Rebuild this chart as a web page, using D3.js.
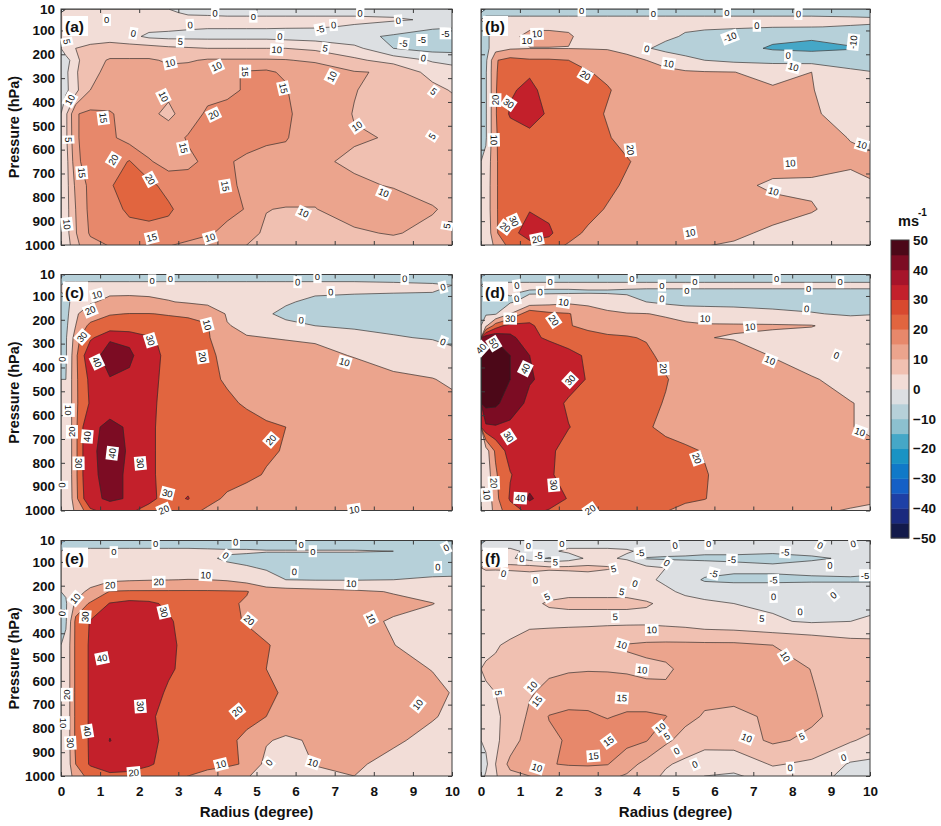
<!DOCTYPE html>
<html><head><meta charset="utf-8">
<script src="https://cdn.jsdelivr.net/npm/d3@7"></script>
<style>
body{margin:0;background:#fff;}
svg{display:block;font-family:"Liberation Sans",Arial,sans-serif;}
</style></head><body>
<svg id="chart" width="941" height="826"></svg>
<script>
// ---------- grid coordinates ----------
const radiusGrid = [0, 0.25, 0.5, 1, 1.5, 2, 2.5, 3, 3.5, 4, 4.5, 5, 5.5, 6, 7, 8, 9, 10];
const pressureGrid = [10, 40, 70, 100, 150, 200, 250, 300, 400, 500, 600, 700, 800, 900, 1000];
const pressureTicks = [10, 100, 200, 300, 400, 500, 600, 700, 800, 900, 1000];
const radiusTicks = [0, 1, 2, 3, 4, 5, 6, 7, 8, 9, 10];
const colorbarTicks = [50, 40, 30, 20, 10, 0, -10, -20, -30, -40, -50];

// ---------- wind fields, rows = pressure levels, columns = radii ----------
const panelA = [
[1,1,1,1,1,1,1,-1,-1,-1,-1,-1,-1,-1,-1,-1,-1,-1],
[2,2,2,2,2,2,2,2,1.5,1,1,1,1,1,1,0.5,-0.5,-1],
[2,2,2,2,2,2,2,1,0.5,0.5,0.5,0.5,0.5,0.5,-0.5,-2,-4,-5],
[3,3,3,3,1.5,-1,-1.5,-1.5,-1.5,-1.5,-1.5,-1.5,-2,-2.5,-4,-5.5,-7,-7],
[3,5,6,7,7,7,6,5.5,5,5,5,5,5,4,1.5,-5,-7,-7],
[-2,3,8,10.5,10.5,10.5,9.5,9.5,10.5,10.5,10.5,10.5,10.3,9.5,6,3,-0.5,-2],
[-1,4,9,11,12,12,11,12,13,14,15.5,16,14,12,10.3,9.5,3,1],
[-1,3,10,11.5,12,12,11,12,13,14,15.5,16,15.5,11,10.2,8,6,3.5],
[4,14.5,16,15.5,13,11,9,12,16,16.5,17,17,16,13,9.8,9.5,7.5,5.5],
[4,14,17,16,13,12,12.5,15.5,17,17,17,16,15.5,12,10.3,9.8,7,5.2],
[3,13,17,17.5,20.3,15.5,13,14,16,15.5,14,13,12.5,10.5,9.5,8.5,6.5,4],
[3,11,16,19.5,22.5,21.5,18,17,16.5,16,14,12.5,12,11,10.5,9.8,8.5,6],
[3,10,16,18,21,22,21,17,16.5,16,14.8,10.1,9.8,9.9,11.5,11.5,10.3,8],
[3,9.5,15.5,17,18,18,17.5,16.5,15.5,14,11,9.5,9,8.5,9.5,10.3,9,5],
[2,7,12,13.5,14,14,13,12,11,10.2,9,8.5,8,8,8,7,6,5]
];
const panelB = [
[-3,-3,-3,-3,-3,-3,-3,-3,-3,-3,-3,-3,-3,-3,-3,-3,-3,-3],
[3,3,3,3,3,3,3,3,3,3,3,3,3,3,3,3,2,1],
[-1,5,7,8,8,8,6,5,5,4,3,2,1.5,1,0.5,0.2,-0.5,-1],
[-2,4,8,12,12,11,7,6,5,4,2,-1,-2,-3,-8,-9,-8,-4],
[-3,6,9,9.8,9.8,9.8,9.6,9.5,8,1,-3,-5,-6,-7,-11,-12,-10.5,-6],
[-2,19,23,21,21,20,17,14,12,10,7,3,0,-2,-3,-4,-5,-5],
[-1,19,25,28,24,22,20.5,18,16,14,12,11,10.5,10.1,8,10,2,-1],
[-1,19,29,32,27,24,22,20.5,18,16,14,13,12,11,10.5,10.3,6,3],
[-1,19,31,33,29,25,22,19.5,18,16,15,14,14,13,12,10.5,8.5,7],
[-1,19,25,28,26,24,22,20.5,18,16,15,14,14,13.5,13,12,9.8,8],
[2,19,24,27,26,25,23,22,20.5,18,16,15,14,13,12.5,12,11,10.2],
[3,19,24,27,26,25,23,21.5,19,17,15,14,13,11.5,9,9,8,10.3],
[3,19,24,29.5,27,24,22,19.5,18,16,15,14,13.5,13,12,10.5,7,7],
[2,18,27,34,32,22,19,17,15.5,14.5,13.5,12.5,12,11,9,7,6,6],
[2,10,18,21,19,17,15,13,11.5,10.5,9.5,9,8.5,8,7,6,6,6]
];
const panelC = [
[-3,-3,-3,-3,-3,-3,-3,-3,-3,-3,-3,-3,-3,-3,-3,-3,-3,-3],
[3,3,3,3,3,3,3,3,3,3,3,3,3,3,3,2,1,-1],
[1,3,6,8,8,7.5,7,6,5,4,3,2,2,1,1,0.5,0,-1],
[-2,3,9,12,12.5,12,10.5,9,7,5,4,3,1,-1,-3,-4,-4,-4],
[-3,8,15,19.5,20.2,20.2,19.5,19,18,9,6,1,-2,-4,-6,-7,-7,-6],
[-2,10,22,24,24,23.5,23,22,20.5,10.5,8,5,2,0,-2,-3,-3,-3],
[-1,14,28,38,36,31,28,25,21,13,10.5,10,9.5,9,5,1,-1,-2],
[-1,17,36,44,42,33,28,26,21.5,18,15,13,12,11,9.8,8,5,0.3],
[0,17,32,39.5,38,33,27,25,22,19,16,14.5,13.5,13,12,11,10.3,7],
[0,17,31,36,34,32,27,25,23,21.5,19,16,15,14,13,12,11,10.2],
[0,17,38,42,39,31,28,26,25,24,23,21.5,20,17,14,13,12,11.5],
[0,17,38,44,39,31,28,26,25,24,23,21,19.5,17,14,13,12,12],
[0,17,38,43,38.5,31,28,26,24,22.5,21.5,19.5,17,15,13,12.5,12,12],
[0,16,37,42,39,32,27,30.5,22,19,17,15.5,14.5,14,13,12.5,12,11.5],
[0,10,20,25,25,23,20,18,16,14,13,12,11.5,11,10.3,9.9,9.5,9]
];
const panelD = [
[-3,-3,-3,-3,-3,-3,-3,-3,-3,-3,-3,-3,-3,-3,-3,-3,-3,-3],
[2,2,2,2,2,2,2,2,2,2,2,2,2,2,2,2,2,2],
[-2,-1,1,-1,-1.5,-1.5,-1,-1,-1.5,-2,-2,-2,-2,-2,-2,-2,-2,-2],
[-4,-3,-1,3,6,8,7,5,3,0,-2,-3,-3,-3,-3,-3,-3,-3],
[-1,-1,10,27,22,20.5,16,12,10.5,10.2,9,6,5,4,2,0.5,-1,0],
[8,25,33,31,27,20.5,18,16,14,13,12.5,12,11,11,11,10.5,5,4],
[46,48,43,33,28,25,23,21.5,21,19,14,12,10.5,9.5,8,6,4,3],
[53,55,50,40,35,32,29,26,24,21.5,18,15,13,12,9.8,7,5,3],
[55,56,50,41,37,33,29.5,27,25,23,20.5,17,15,14,12,10.5,8,6],
[53,52,47,37,33,29,27,25.5,24,22,19.5,17,15.5,14.5,13,12,10.2,8],
[38,39,37,35,33,30.2,28,26,23.5,21,18,16,15,14,13,12,10.2,8],
[5,22,33,36,31,28,26.5,25.5,25,24,23,21.5,19.5,17,14,12.5,11,10.3],
[3,18,29.5,35,31,27,25,24,23.5,23,22,21.5,20.5,18,15,13,12,11],
[3,15,31,41.5,34,29.5,26,25,24,23,22.5,21,20.2,18,15,13,11,10.2],
[3,12,22,26,25,23,21,19,18.5,18.5,18,16,14.5,12,10.2,9,8.5,8]
];
const panelE = [
[-3,-3,-3,-3,-3,-3,-3,-3,-3,-3,-3,-3,-3,-3,-3,-3,-3,-3],
[2,2,2,2,2,2,2,2,1.5,1,1,0.5,0.5,0.5,0.5,0,-0.5,-1],
[2,3,3,3,3,3,3,2.5,1,-1,-2,-3,-3,-3,-3,-3,-3,-3],
[2,3,4,5,5.5,5.5,5,4,3,1,0.5,-0.5,-2,-3,-3,-3,-3,-3],
[1,4,6,8,9,9.5,9.8,10.2,10.1,9,6,2,0,-0.5,-0.5,0,1,1.5],
[1,5,12,20.5,21,21,21,21,21,20.8,20.5,15,14,13,11.5,9.5,7,5],
[-1,12,21,30.5,33,32,28,25,23,21.5,19,17,16,15,13,12,10.2,6],
[-1,22,30.5,35,35,34,31,27,24,21.5,19.5,17,15,14,11.5,9.5,8,6],
[2,22,31,35,35,34,31.5,28,26,24,22.5,20.5,18,16,13,10.1,8,6],
[2,22,31,36,35,34,31,28,26,24,22,20,18,16.5,14,12,9.8,6],
[2,22,31,36,35,33,29,27,25.5,24,23,21.5,19,17,15,13,11.5,8],
[2,22,31,37,35,31,28,26.5,25,24,22.5,20,18,16,14,12.5,10.5,7],
[2,22,31,40.3,35,32,28,26,24,22,18,11,8,11,13,11,8,6],
[2,20,31,35,34,31,27,25,23,21.5,19,7,3,10.5,11,8,6,5],
[2,12,18,21,21,20.5,18,15,10.5,8,5,3,-1,4,9,7,5,4]
];
const panelF = [
[-1.5,-1.5,-1.5,-1.5,-1.5,-1.5,-1.5,-1.5,-1.5,-1.5,-1.5,-1.5,-1.5,-1.5,-1.5,-1.5,-1.5,-1.5],
[1,1,1,-1,-1,1,1,1,0.5,-1,-2,-3,-4,-4,-4,-3,-1,-3],
[2,2,1,-3,-5.5,-3,1,1,-1,-5.5,-6,-6,-6,-6,-7,-6,-4,-6],
[6,6,6.5,7,6,6,6,5.5,4,1,0,-2,-3,-4,-4,-3,-2,-4],
[1,0.5,0,1,1,2,3,2,1,1,-1,-3,-5.5,-6,-6,-6,-6,-6],
[1,1,2,3,3.5,4,4,4,4,3,1,-1,-2,-2,-2,-1,-1,-1],
[2,2,3,4,5.5,6,6,6,6,5.5,4,2,1,0,-1,-1,-1,-0.5],
[4,4,3.5,4,4,4,4,4,4,4,3.5,3,2,1.5,0.5,-0.5,0,0.5],
[4,4.5,5.5,7,7.5,8,8.5,9.5,10.3,10.8,11,11,11,11,10,9,7,6.5],
[5.5,6,7,8,9,9.5,9.6,9.5,9.2,9.3,9.6,10.6,12,12.5,12,9.9,8,7.5],
[4.5,5,6.5,9.5,11.5,12.5,13.5,13.5,13,11,10.5,11,11.5,12,12,10.3,8,7],
[2,4,6,11,15.2,16,15.5,14.8,15.5,16,15.2,11.5,9.5,8.5,11,10.8,8,6.5],
[1,3,8,12,14,15.5,16.5,17,16.5,15.3,11,8,7,7.5,10.8,9,5.5,2],
[-1,5,11,12,14.8,15.3,15.5,15.2,12,8.5,5.5,4,2,1.5,5.5,4,-0.5,-1],
[2,4,7,8,9,9.5,9,8,7,5.5,3,0.5,-2,-2.5,-0.5,0.5,-1.5,-1.5]
];

// ---------- contour labels: [radius, pressure, text] ----------
const labelsA = [[1.17,56,"0"],[1.85,112,"0"],[3.3,77,"0"],[3.94,28,"0"],[4.92,42,"0"],[7.65,28,"0"],[6.97,77,"0"],[8.63,59,"0"],[6.63,95,"-5"],[5.6,126,"0"],[8.76,154,"-5"],[9.23,140,"-5"],[9.83,112,"-5"],[9.27,216,"0"],[3.05,147,"5"],[6.76,175,"5"],[5.52,181,"10"],[0.15,147,"5"],[2.79,237,"10"],[3.98,251,"10"],[4.71,272,"15"],[2.62,377,"10"],[6.93,293,"10"],[5.69,342,"15"],[9.53,356,"5"],[0.23,391,"10"],[1.08,467,"15"],[3.9,453,"20"],[7.57,502,"10"],[0.19,558,"5"],[9.49,544,"5"],[3.13,593,"15"],[1.34,642,"20"],[2.28,725,"20"],[0.53,697,"15"],[4.2,753,"15"],[8.25,781,"10"],[6.2,865,"10"],[0.15,913,"10"],[2.32,969,"15"],[3.81,969,"10"],[9.87,920,"5"]];
const labelsB = [[2.59,17,"0"],[4.43,31,"0"],[6.32,24,"0"],[8.16,31,"0"],[7.09,80,"0"],[1.44,114,"10"],[1.18,142,"10"],[6.4,128,"-10"],[9.57,149,"-10"],[4.26,177,"0"],[7.9,205,"0"],[4.82,239,"10"],[8.03,253,"10"],[2.68,288,"20"],[0.37,392,"20"],[0.71,406,"30"],[0.33,559,"10"],[3.84,601,"20"],[9.79,580,"10"],[7.95,657,"10"],[7.52,775,"10"],[0.62,925,"20"],[0.85,900,"30"],[1.44,976,"20"],[5.38,949,"10"]];
const labelsC = [[2.33,35,"0"],[2.8,28,"0"],[6.05,42,"0"],[6.56,21,"0"],[8.79,28,"0"],[9.77,63,"0"],[6.9,84,"0"],[0.92,95,"10"],[0.75,161,"20"],[6.14,202,"0"],[3.74,221,"10"],[0.54,272,"30"],[2.29,286,"30"],[9.77,293,"0"],[0.03,366,"0"],[0.92,377,"40"],[3.62,356,"20"],[7.25,377,"10"],[0.2,579,"10"],[0.28,670,"20"],[0.67,690,"40"],[1.31,760,"40"],[0.45,802,"30"],[2.03,802,"30"],[5.37,704,"20"],[0.03,893,"0"],[2.72,928,"30"],[2.63,997,"20"],[7.5,997,"10"]];
const labelsD = [[1.78,42,"0"],[0.92,56,"0"],[1.52,84,"0"],[0.92,112,"0"],[3.88,28,"0"],[4.65,56,"0"],[5.5,42,"0"],[4.65,112,"0"],[5.29,77,"0"],[7.6,28,"0"],[8.42,70,"0"],[9.23,42,"0"],[8.37,154,"0"],[2.12,126,"10"],[0.75,195,"30"],[1.87,202,"20"],[5.76,195,"10"],[6.92,230,"10"],[0.33,300,"50"],[0,321,"40"],[9.14,349,"0"],[7.43,370,"10"],[1.14,405,"40"],[2.29,453,"30"],[4.69,405,"20"],[0.71,690,"30"],[9.74,670,"10"],[5.55,781,"20"],[0.33,885,"20"],[0.15,934,"10"],[1.87,893,"30"],[1.01,948,"40"],[2.81,997,"20"]];
const labelsE = [[2.42,24,"0"],[4.47,17,"0"],[6.14,27,"0"],[6.44,55,"0"],[9.85,41,"0"],[1.35,59,"0"],[4.21,73,"0"],[5.97,142,"0"],[9.64,122,"0"],[3.7,156,"10"],[7.42,191,"10"],[1.26,198,"20"],[2.5,184,"20"],[0.37,254,"10"],[2.63,310,"30"],[0.62,331,"30"],[0.03,317,"0"],[4.81,345,"20"],[7.93,338,"10"],[1.05,505,"40"],[0.15,658,"20"],[2.03,707,"30"],[4.51,728,"20"],[9.13,700,"10"],[0.07,777,"10"],[0.67,812,"40"],[0.24,861,"30"],[5.32,944,"0"],[6.44,944,"10"],[4.09,951,"10"],[1.86,986,"20"]];
const labelsF = [[1.22,31,"0"],[2.08,24,"0"],[4.99,31,"0"],[5.85,24,"0"],[8.72,31,"0"],[9.57,24,"0"],[1.48,73,"-5"],[1.05,87,"0"],[1.91,101,"5"],[0.58,149,"0"],[4.09,63,"-5"],[7.82,59,"-5"],[6.45,91,"-5"],[4.78,105,"0"],[3.41,129,"5"],[8.97,115,"0"],[9.87,156,"-5"],[5.98,149,"-5"],[7.52,177,"-5"],[1.4,177,"0"],[3.96,191,"0"],[3.62,226,"5"],[1.7,247,"5"],[7.52,247,"0"],[9.06,240,"0"],[8.2,310,"0"],[3.45,331,"5"],[7.22,338,"5"],[4.39,386,"10"],[3.62,449,"10"],[7.82,498,"10"],[4.14,554,"10"],[0.45,651,"5"],[1.31,624,"10"],[1.44,686,"15"],[3.62,672,"15"],[4.61,798,"10"],[4.78,833,"5"],[3.28,854,"15"],[6.83,840,"10"],[8.25,833,"5"],[5.03,895,"0"],[2.89,916,"15"],[5.5,951,"0"],[1.44,965,"10"],[7.95,965,"0"],[9.32,923,"0"]];

// ---------- colour map: band lower bounds -50..45 step 5 ----------
const bandLevels = [-50,-45,-40,-35,-30,-25,-20,-15,-10,-5,0,5,10,15,20,25,30,35,40,45];
const bandColors = ["#131a4b","#1b2a7e","#1e40a6","#1560c6","#1079c8","#1a93c4","#45a7c7","#8cc0cf","#b6d0d9","#dcdfe2",
                    "#f2ddd7","#f0c0b1","#eba48d","#e7886b","#e1653f","#d8492f","#c3202b","#a6142a","#7c0c23","#4c0818"];
function colorFor(t){ let i = Math.round((t + 50) / 5); i = Math.max(0, Math.min(19, i)); return bandColors[i]; }

const panels = [
  {key:"a", tag:"(a)", data:panelA, labels:labelsA, step:5,  col:0, row:0},
  {key:"b", tag:"(b)", data:panelB, labels:labelsB, step:10, col:1, row:0},
  {key:"c", tag:"(c)", data:panelC, labels:labelsC, step:10, col:0, row:1},
  {key:"d", tag:"(d)", data:panelD, labels:labelsD, step:10, col:1, row:1},
  {key:"e", tag:"(e)", data:panelE, labels:labelsE, step:10, col:0, row:2},
  {key:"f", tag:"(f)", data:panelF, labels:labelsF, step:5,  col:1, row:2}
];
const colX = [[61, 452], [481, 870]];
const rowY = [[9, 245], [274.5, 510.5], [540.5, 776]];

const svg = d3.select("#chart");
const defs = svg.append("defs");
const nc = radiusGrid.length, nr = pressureGrid.length;

function fieldAt(data, r, p){
  const i = Math.max(0, Math.min(nc - 2, d3.bisectRight(radiusGrid, r) - 1));
  const j = Math.max(0, Math.min(nr - 2, d3.bisectRight(pressureGrid, p) - 1));
  const tx = (r - radiusGrid[i]) / (radiusGrid[i+1] - radiusGrid[i]);
  const ty = (p - pressureGrid[j]) / (pressureGrid[j+1] - pressureGrid[j]);
  return data[j][i]*(1-tx)*(1-ty) + data[j][i+1]*tx*(1-ty) + data[j+1][i]*(1-tx)*ty + data[j+1][i+1]*tx*ty;
}

function drawPanel(P){
  const [x0, x1] = colX[P.col], [y0, y1] = rowY[P.row];
  const xs = d3.scaleLinear().domain([0, 10]).range([x0, x1]);
  const ys = d3.scaleLinear().domain([10, 1000]).range([y0, y1]);
  const clipId = "clip-" + P.key;
  defs.append("clipPath").attr("id", clipId).append("rect")
    .attr("x", x0).attr("y", y0).attr("width", x1 - x0).attr("height", y1 - y0);

  const values = [];
  for (let j = 0; j <= nr; j++){
    const row = P.data[Math.min(j, nr - 1)];
    for (let i = 0; i <= nc; i++) values.push(row[Math.min(i, nc - 1)]);
  }
  const gx = d3.scaleLinear().domain(d3.range(nc + 1)).range(radiusGrid.concat([2*radiusGrid[nc-1] - radiusGrid[nc-2]]));
  const gy = d3.scaleLinear().domain(d3.range(nr + 1)).range(pressureGrid.concat([2*pressureGrid[nr-1] - pressureGrid[nr-2]]));
  const proj = d3.geoTransform({ point(x, y){ this.stream.point(xs(gx(x)), ys(gy(y))); } });
  const path = d3.geoPath(proj);
  const thresholds = d3.range(-50, 50.001, P.step);
  const cs = d3.contours().size([nc + 1, nr + 1]).thresholds(thresholds)(values)
               .filter(c => c.coordinates.length);
  const mn = d3.min(values);

  const g = svg.append("g").attr("clip-path", `url(#${clipId})`);
  g.append("g").selectAll("path").data(cs).join("path")
    .attr("d", path).attr("fill", c => colorFor(c.value))
    .attr("stroke", c => colorFor(c.value)).attr("stroke-width", 0.3);
  g.append("g").selectAll("path").data(cs.filter(c => c.value > mn)).join("path")
    .attr("d", path).attr("fill", "none").attr("stroke", "#2a2a2a").attr("stroke-width", 0.65);

  svg.append("rect").attr("x", x0).attr("y", y0).attr("width", x1 - x0).attr("height", y1 - y0)
    .attr("fill", "none").attr("stroke", "#3c3c3c").attr("stroke-width", 1);

  const styleAxis = sel => { sel.select(".domain").remove();
    sel.attr("color", "#3c3c3c").attr("font-family", '"Liberation Sans", Arial, sans-serif')
       .attr("font-size", 13.5).attr("font-weight", "bold");
    sel.selectAll("text").attr("fill", "#111"); };
  svg.append("g").attr("transform", `translate(${x0},0)`)
    .call(d3.axisLeft(ys).tickValues(pressureTicks).tickSize(-4).tickSizeOuter(0).tickPadding(6)
      .tickFormat(P.col === 0 ? d3.format("d") : () => ""))
    .call(styleAxis);
  svg.append("g").attr("transform", `translate(${x1},0)`)
    .call(d3.axisRight(ys).tickValues(pressureTicks).tickSize(-4).tickSizeOuter(0).tickFormat(() => ""))
    .call(styleAxis);
  svg.append("g").attr("transform", `translate(0,${y1})`)
    .call(d3.axisBottom(xs).tickValues(radiusTicks).tickSize(-4).tickSizeOuter(0).tickPadding(10)
      .tickFormat(P.row === 2 ? d3.format("d") : () => ""))
    .call(styleAxis);
  svg.append("g").attr("transform", `translate(0,${y0})`)
    .call(d3.axisTop(xs).tickValues(radiusTicks).tickSize(-4).tickSizeOuter(0).tickFormat(() => ""))
    .call(styleAxis);

  const lg = svg.append("g");
  P.labels.forEach(([r, p, t]) => {
    const px = xs(r), py = ys(p), h = 3;
    const fx = fieldAt(P.data, Math.min(10, xs.invert(px + h)), p) - fieldAt(P.data, Math.max(0, xs.invert(px - h)), p);
    const fy = fieldAt(P.data, r, Math.min(1000, ys.invert(py + h))) - fieldAt(P.data, r, Math.max(10, ys.invert(py - h)));
    let ang = 0;
    if (Math.hypot(fx, fy) > 1e-6){
      ang = Math.atan2(fy, fx) * 180 / Math.PI + 90;
      while (ang > 90) ang -= 180;
      while (ang < -90) ang += 180;
    }
    const lab = lg.append("g").attr("transform", `translate(${px},${py}) rotate(${ang})`);
    const rect = lab.append("rect").attr("fill", "#fff");
    const tx = lab.append("text").text(t).attr("text-anchor", "middle").attr("dy", "0.35em")
      .attr("font-size", 9.5).attr("fill", "#111");
    const w = tx.node().getComputedTextLength() + 3;
    rect.attr("x", -w/2).attr("y", -6).attr("width", w).attr("height", 12);
  });

  svg.append("rect").attr("x", x0 + 2).attr("y", y0 + 7).attr("width", 25).attr("height", 20).attr("fill", "#fff");
  svg.append("text").attr("x", x0 + 4).attr("y", y0 + 23).text(P.tag)
    .attr("font-size", 15.5).attr("font-weight", "bold").attr("fill", "#111");

  if (P.col === 0){
    svg.append("text").attr("transform", `translate(14,${(y0 + y1)/2}) rotate(-90)`)
      .attr("text-anchor", "middle").attr("dy", "0.35em").text("Pressure (hPa)")
      .attr("font-size", 14.5).attr("font-weight", "bold").attr("fill", "#111");
  }
  if (P.row === 2){
    svg.append("text").attr("x", (x0 + x1)/2).attr("y", 817).attr("text-anchor", "middle")
      .text("Radius (degree)").attr("font-size", 15).attr("font-weight", "bold").attr("fill", "#111");
  }
}
panels.forEach(drawPanel);

// ---------- colour bar ----------
const cbX = 891, cbW = 18;
const cbScale = d3.scaleLinear().domain([50, -50]).range([240, 538]);
const cb = svg.append("g");
cb.selectAll("rect").data(bandLevels).join("rect")
  .attr("x", cbX).attr("width", cbW)
  .attr("y", d => cbScale(d + 5)).attr("height", d => cbScale(d) - cbScale(d + 5) + 0.4)
  .attr("fill", d => colorFor(d));
cb.append("rect").attr("x", cbX).attr("y", cbScale(50)).attr("width", cbW).attr("height", cbScale(-50) - cbScale(50))
  .attr("fill", "none").attr("stroke", "#3c3c3c").attr("stroke-width", 1);
cb.append("g").attr("transform", `translate(${cbX + cbW},0)`)
  .call(d3.axisRight(cbScale).tickValues(colorbarTicks).tickSize(0).tickPadding(4).tickFormat(d3.format("d")))
  .call(sel => { sel.select(".domain").remove();
    sel.attr("font-family", '"Liberation Sans", Arial, sans-serif').attr("font-size", 13.5).attr("font-weight", "bold");
    sel.selectAll("text").attr("fill", "#111"); });
svg.append("text").attr("x", 898).attr("y", 226).text("ms")
  .attr("font-size", 14.5).attr("font-weight", "bold").attr("fill", "#111");
svg.append("text").attr("x", 918).attr("y", 216).text("-1")
  .attr("font-size", 10).attr("font-weight", "bold").attr("fill", "#111");
</script>
</body></html>
